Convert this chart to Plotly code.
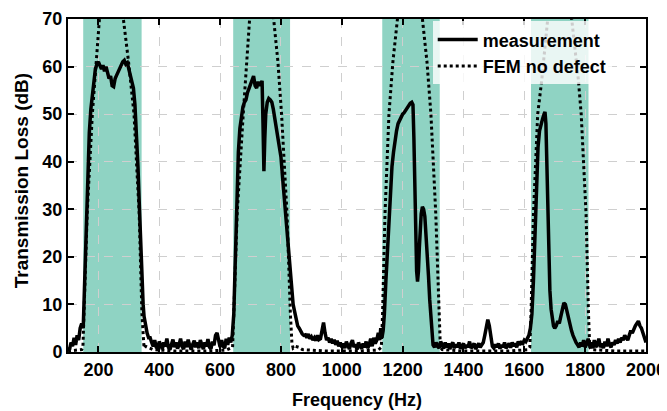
import plotly.graph_objects as go

# ---------------- data ----------------
meas_freq = [
    100, 105, 110, 115, 120, 125, 130, 135, 140, 145, 150, 155, 160, 165, 170, 175, 180, 185, 190, 195,
    200, 205, 210, 215, 220, 225, 230, 235, 240, 245, 250, 255, 260, 265, 270, 275, 280, 285, 290, 295,
    300, 305, 310, 315, 320, 325, 330, 335, 340, 343, 347, 350, 355, 360, 365,
    370, 375, 380, 385, 390, 395, 400, 405, 410, 415, 420, 425, 430, 435, 440, 445, 450, 455, 460, 465,
    470, 475, 480, 485, 490, 495, 500, 505, 510, 515, 520, 525, 530, 535, 540, 545, 550, 555, 560, 565,
    570, 575, 580, 585, 590, 595, 600, 605, 610, 615, 620, 625, 630, 635, 640,
    645, 650, 655, 660, 665, 670, 675, 680, 685, 690, 695, 700, 705, 710, 715, 720, 725, 730, 735, 738,
    741, 744, 747, 750, 755, 760, 765, 770, 775, 780, 785, 790, 795, 800, 805, 810, 815, 820, 825, 830,
    835, 840, 845, 850, 855, 860, 865, 870, 875, 880, 885, 890, 895, 900, 905, 910, 915, 920, 925, 930,
    935, 940, 945, 950, 955, 960, 965, 970, 975, 980, 985, 990, 995, 1000,
    1005, 1010, 1015, 1020, 1025, 1030, 1035, 1040, 1045, 1050, 1055, 1060, 1065, 1070, 1075, 1080, 1085,
    1090, 1095, 1100, 1105, 1110, 1115, 1120, 1125, 1128, 1132, 1136,
    1140, 1145, 1150, 1155, 1160, 1165, 1170, 1175, 1180, 1185, 1190, 1195, 1200, 1205, 1210, 1215, 1220,
    1225, 1230, 1234, 1237, 1240, 1243, 1246, 1249, 1252, 1255, 1258, 1261, 1265, 1269, 1273, 1277, 1281,
    1285, 1289, 1293, 1297, 1300, 1305, 1310, 1315, 1320, 1325,
    1330, 1335, 1340, 1345, 1350, 1355, 1360, 1365, 1370, 1375, 1380, 1385, 1390, 1395, 1400, 1405, 1410,
    1415, 1420, 1425, 1430, 1435, 1440, 1445, 1450, 1455, 1460, 1465, 1470, 1475, 1480, 1485, 1490, 1495,
    1500, 1505, 1510, 1515, 1520, 1525, 1530, 1535, 1540, 1545, 1550, 1555, 1560, 1565, 1570, 1575, 1580,
    1585, 1590, 1595, 1600, 1605, 1610, 1615, 1620,
    1625, 1630, 1635, 1640, 1645, 1650, 1655, 1660, 1665, 1668, 1671, 1674, 1677, 1680, 1684, 1688, 1692,
    1696, 1700, 1705, 1710, 1715, 1720, 1725, 1730, 1735, 1740, 1745, 1750, 1755, 1760, 1765, 1770, 1775,
    1780, 1785, 1790, 1795, 1800, 1805, 1810, 1815, 1820, 1825, 1830, 1835, 1840, 1845, 1850, 1855, 1860,
    1865, 1870, 1875, 1880, 1885, 1890, 1895, 1900, 1905, 1910, 1915, 1920, 1925, 1930, 1935, 1940, 1945,
    1950, 1955, 1960, 1965, 1970, 1975, 1980, 1985, 1990, 1995, 2000,
]
meas_db = [
    1.0, 0.5, 2.0, 1.2, 3.0, 1.5, 3.5, 2.5, 5.0, 6.0, 5.0, 15, 28, 38, 46, 51, 54, 57, 59.5, 60.5,
    61, 60.2, 59.5, 60.3, 59, 60, 58.5, 57.5, 58, 56, 55.8, 57.5, 58.2, 59, 59.5, 60.5, 61, 61.3, 60.5, 60.8,
    59.5, 58.5, 57, 55.5, 52, 46, 39, 30, 20, 14, 10, 7.5, 5.5, 4, 3,
    3.0, 2.0, 1.2, 2.5, 1.0, 0.8, 2.2, 1.5, 0.6, 2.0, 1.2, 2.8, 1.0, 0.5, 1.8, 2.6, 1.0, 2.0, 0.7, 1.5,
    2.8, 1.2, 0.6, 2.2, 1.0, 2.6, 1.4, 0.5, 1.6, 2.4, 1.0, 2.0, 0.8, 2.5, 1.5, 0.6, 2.0, 1.2, 2.7, 1.0,
    0.7, 2.2, 1.4, 3.5, 4.0, 2.0, 1.0, 2.5, 1.2, 0.8, 2.8, 1.5, 3.0, 2.0, 3.5,
    8, 20, 32, 42, 47, 50, 51.5, 52.5, 53, 54.5, 55.5, 56, 57.5, 58, 56, 55.5, 56.8, 56, 56.5, 57,
    48, 38, 45, 50, 52.5, 53.3, 53, 52.5, 51, 49, 47.5, 46, 44, 41, 37, 33, 29, 25, 21, 16,
    12.5, 10, 8.5, 6.5, 5.5, 5, 4.2, 3.8, 3.5, 3.6, 3.0, 3.8, 2.8, 3.2, 2.5, 3.0, 2.4, 3.5, 2.6, 2.8,
    4.5, 6.2, 4.0, 2.5, 3.0, 2.0, 2.8, 1.8, 2.6, 1.5, 2.4, 1.2, 2.0, 1.0,
    1.8, 0.8, 2.2, 1.2, 0.6, 1.8, 2.5, 1.0, 1.6, 0.5, 2.0, 1.2, 0.7, 1.8, 1.0, 2.2, 0.8,
    1.5, 2.8, 1.2, 3.0, 1.8, 2.5, 4.0, 2.5, 5.0, 3.0, 4.5,
    8, 15, 22, 29, 35, 39, 42, 44.5, 46.5, 48, 48.8, 49.3, 50, 50.3, 50.8, 51.5, 52,
    52.3, 52.5, 52, 45, 32, 22, 17, 14.8, 17, 22, 26, 29, 30.5, 30, 28.5, 25, 21,
    16, 11, 7, 3.5, 1.5, 1.0, 2.0, 1.2, 0.8, 2.2,
    1.5, 0.7, 2.0, 1.0, 1.8, 0.6, 1.5, 2.0, 0.8, 1.6, 1.0, 2.0, 0.7, 1.4, 1.8, 0.8, 1.5,
    1.0, 2.2, 0.8, 1.4, 1.8, 0.6, 1.2, 1.8, 1.0, 1.5, 2.0, 3.5, 5.5, 6.8, 5.5, 3.0, 1.2,
    0.8, 1.6, 1.0, 1.8, 0.7, 1.5, 1.0, 2.0, 0.8, 1.4, 1.8, 0.9, 2.0, 1.2, 1.8, 1.0, 2.2,
    1.5, 2.0, 1.8, 2.5, 2.2, 3.0, 3.5, 5,
    8, 15, 25, 36, 43, 46.5, 48, 49, 50, 50.5, 48, 38, 28, 20, 13, 9, 7,
    5.5, 5, 5.5, 6.5, 6, 7.5, 9, 10.3, 10, 8.5, 7, 5.5, 4.5, 3.5, 2.5, 2.0, 1.5,
    1.0, 2.0, 1.2, 2.5, 1.0, 1.8, 2.8, 1.2, 2.0, 0.8, 2.5, 1.0, 1.6, 2.8, 1.0, 1.8, 0.8,
    2.2, 1.2, 2.8, 1.5, 1.0, 2.0, 1.5, 2.5, 1.8, 2.8, 2.0, 3.0, 2.5, 3.5, 3.0, 2.5, 3.5,
    4.5, 4.0, 5.0, 5.5, 6.0, 6.5, 5.5, 5.0, 4.0, 3.0, 2.0,
]

fem_freq = [
    100, 120, 140, 145, 149, 153, 163, 180, 192, 203, 215, 240, 270, 282, 299, 317, 334, 343, 347, 350,
    355, 362, 380, 450, 550, 620, 638,
    641, 645, 656, 676, 687, 697, 720, 750, 776, 790, 802, 820, 831, 836, 840, 848, 858, 870, 950, 1050,
    1120, 1130,
    1134, 1142, 1155, 1168, 1183, 1210, 1240, 1265, 1280, 1293, 1309, 1320, 1324, 1330, 1400, 1550, 1612,
    1618, 1622, 1630, 1644, 1657, 1675, 1700, 1730, 1756, 1778, 1787, 1803, 1811, 1815, 1820, 1900, 2000,
]
fem_db = [
    0.2, 0.3, 0.4, 0.5, 1, 8, 29, 50, 61, 70, 80, 85, 80, 70, 61, 50, 29, 8, 2, 0.8,
    1.2, 1.0, 0.5, 0.2, 0.2, 0.4, 0.8,
    1, 8, 29, 50, 61, 70, 82, 82, 70, 61, 50, 29, 8, 2, 0.8, 1.2, 1.0, 0.5, 0.2, 0.2,
    0.4, 1,
    8, 29, 50, 61, 70, 80, 80, 70, 61, 50, 29, 8, 1, 0.5, 0.2, 0.2, 0.5,
    1, 8, 29, 50, 57, 70, 85, 85, 70, 57, 50, 29, 8, 1, 0.5, 0.2, 0.2,
]

band_start = [150, 643, 1133, 1622]
band_end = [342, 830, 1322, 1811]

x_ticks = [200, 400, 600, 800, 1000, 1200, 1400, 1600, 1800, 2000]
y_ticks = [0, 10, 20, 30, 40, 50, 60, 70]

FONT = "Liberation Sans, Arial, sans-serif"
BAND_COLOR = "#8fd3c3"

fig = go.Figure()

fig.add_trace(go.Scatter(
    x=meas_freq, y=meas_db, mode="lines", name="measurement",
    line=dict(color="black", width=3.5),
))
fig.add_trace(go.Scatter(
    x=fem_freq, y=fem_db, mode="lines", name="FEM no defect",
    line=dict(color="black", width=3, dash="3px,3px"),
))

for s, e in zip(band_start, band_end):
    fig.add_shape(type="rect", xref="x", yref="paper", x0=s, x1=e, y0=0, y1=1,
                  fillcolor=BAND_COLOR, line=dict(width=0), layer="below")

axis_common = dict(
    showline=True, linecolor="black", linewidth=2, mirror="ticks",
    ticks="inside", ticklen=6, tickwidth=2, tickcolor="black",
    showgrid=True, gridcolor="#cfcfcf", griddash="dash", gridwidth=1,
    zeroline=False, automargin=False,
    tickfont=dict(family=FONT, size=18, color="black", weight="bold"),
)

fig.update_xaxes(range=[100, 2000], tickvals=x_ticks, ticktext=[str(v) for v in x_ticks], **axis_common)
fig.update_yaxes(range=[0, 70], tickvals=y_ticks, ticktext=[str(v) for v in y_ticks], **axis_common)

fig.add_annotation(
    text="Frequency (Hz)", xref="paper", yref="paper", x=0.5, y=-0.144,
    xanchor="center", yanchor="middle", showarrow=False,
    font=dict(family=FONT, size=18, color="black", weight="bold"),
)
fig.add_annotation(
    text="Transmission Loss (dB)", xref="paper", yref="paper", x=-0.08, y=0.515,
    xanchor="center", yanchor="middle", showarrow=False, textangle=-90,
    font=dict(family=FONT, size=19, color="black", weight="bold"),
)

# the page body adds an 8px margin, so the figure is 8px smaller and the
# margins are shifted to keep the plot area where the reference has it
fig.update_layout(
    width=659, height=403,
    margin=dict(l=60, r=21, t=11, b=59),
    plot_bgcolor="white", paper_bgcolor="white",
    showlegend=True,
    legend=dict(
        x=0.631, y=0.993, xanchor="left", yanchor="top",
        bgcolor="rgba(255,255,255,0.8)", borderwidth=0,
        font=dict(family=FONT, size=18, color="black", weight="bold"),
        tracegroupgap=0, itemwidth=40,
    ),
)

fig.write_html("out.html")
